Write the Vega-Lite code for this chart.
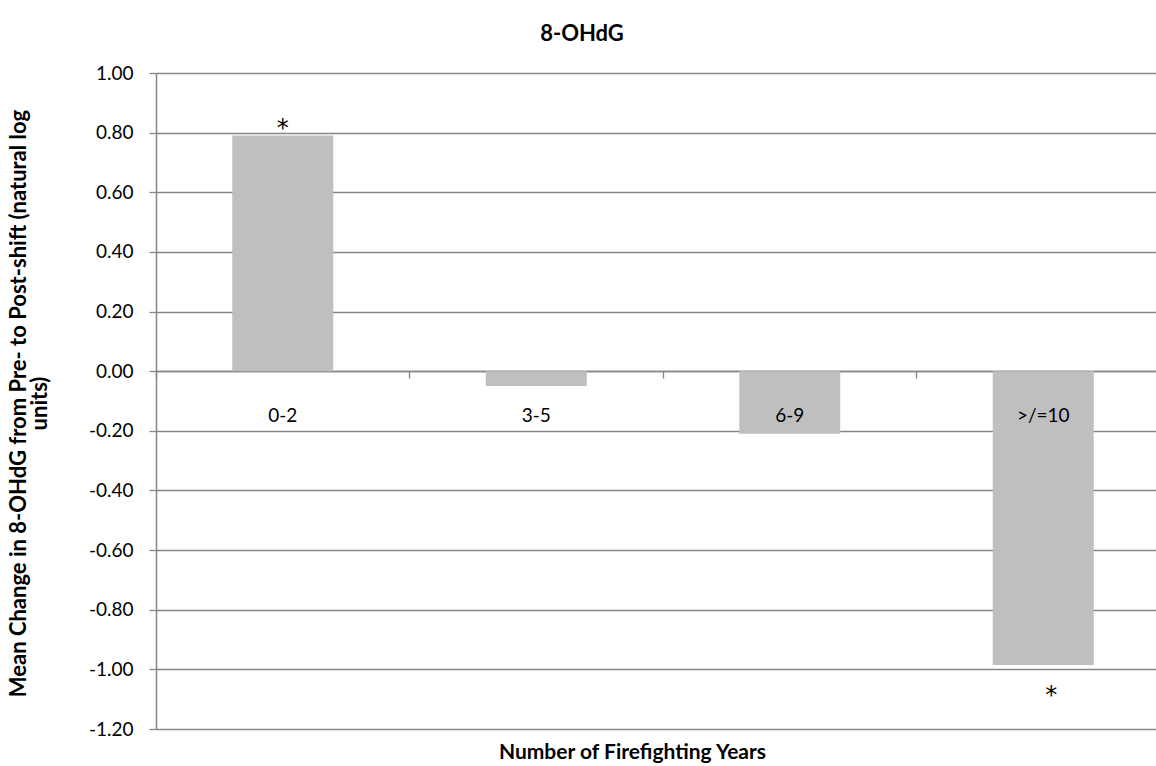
{
  "$schema": "https://vega.github.io/schema/vega-lite/v6.json",
  "width": 1000,
  "height": 656,
  "autosize": {"type": "none"},
  "padding": {"left": 156, "top": 73, "right": 0, "bottom": 37},
  "background": "white",
  "config": {"view": {"stroke": null}, "font": "Lato"},
  "title": {"text": "8-OHdG", "anchor": "middle", "frame": "group", "dx": -74, "offset": 1, "baseline": "alphabetic", "fontSize": 22, "fontWeight": "bold", "color": "#000"},
  "data": {"values": [
    {"years": "0-2", "change": 0.79, "sig": "*"},
    {"years": "3-5", "change": -0.05, "sig": ""},
    {"years": "6-9", "change": -0.21, "sig": ""},
    {"years": ">/=10", "change": -0.985, "sig": "*"}
  ]},
  "encoding": {
    "x": {"field": "years", "type": "nominal", "sort": null,
      "scale": {"range": [0, 1014], "paddingInner": 0, "paddingOuter": 0},
      "axis": {"orient": "bottom", "offset": -358, "bandPosition": 0, "labels": false, "ticks": true, "tickSize": 7, "tickColor": "#868686", "tickWidth": 1.3, "domain": true, "domainColor": "#868686", "domainWidth": 1.5, "grid": false,
        "title": "Number of Firefighting Years", "titleFontSize": 21, "titleFontWeight": "bold", "titleColor": "#000", "titleX": 476, "titleY": 387, "titleBaseline": "alphabetic", "titleAlign": "center"}}
  },
  "layer": [
    {"mark": {"type": "bar", "color": "#bfbfbf", "width": {"band": 0.3984}},
     "encoding": {"y": {"field": "change", "type": "quantitative",
       "scale": {"domain": [-1.2, 1.0], "nice": false},
       "axis": {"values": [-1.2, -1, -0.8, -0.6, -0.4, -0.2, 0, 0.2, 0.4, 0.6, 0.8, 1],
         "labelExpr": "replace(format(datum.value, '.2f'), '\u2212', '-')",
         "title": ["Mean Change in 8-OHdG from Pre- to Post-shift (natural log", "units)"],
         "grid": true, "gridColor": "#868686", "gridWidth": 1.3,
         "domainColor": "#868686", "domainWidth": 1.5, "tickColor": "#868686", "tickSize": 7, "tickWidth": 1.3,
         "labelPadding": 16, "labelFontSize": 19, "labelColor": "#000",
         "titleFontSize": 22, "titleFontWeight": "bold", "titleColor": "#000", "titleAngle": -90,
         "titleX": -148, "titleY": 330, "titleBaseline": "top", "titleAlign": "center", "titleLineHeight": 21}}}},
    {"mark": {"type": "text", "fontSize": 19, "color": "#000", "baseline": "alphabetic", "dy": 51},
     "encoding": {"y": {"datum": 0, "type": "quantitative"}, "text": {"field": "years"}}},
    {"transform": [{"filter": "datum.change > 0 && datum.sig != ''"}],
     "mark": {"type": "text", "font": "DejaVu Sans", "fontSize": 24, "color": "#000", "baseline": "alphabetic", "dy": 0},
     "encoding": {"y": {"field": "change", "type": "quantitative"}, "text": {"field": "sig"}}},
    {"transform": [{"filter": "datum.change < 0 && datum.sig != ''"}],
     "mark": {"type": "text", "font": "DejaVu Sans", "fontSize": 24, "color": "#000", "baseline": "alphabetic", "dy": 38, "dx": 8},
     "encoding": {"y": {"field": "change", "type": "quantitative"}, "text": {"field": "sig"}}}
  ]
}
